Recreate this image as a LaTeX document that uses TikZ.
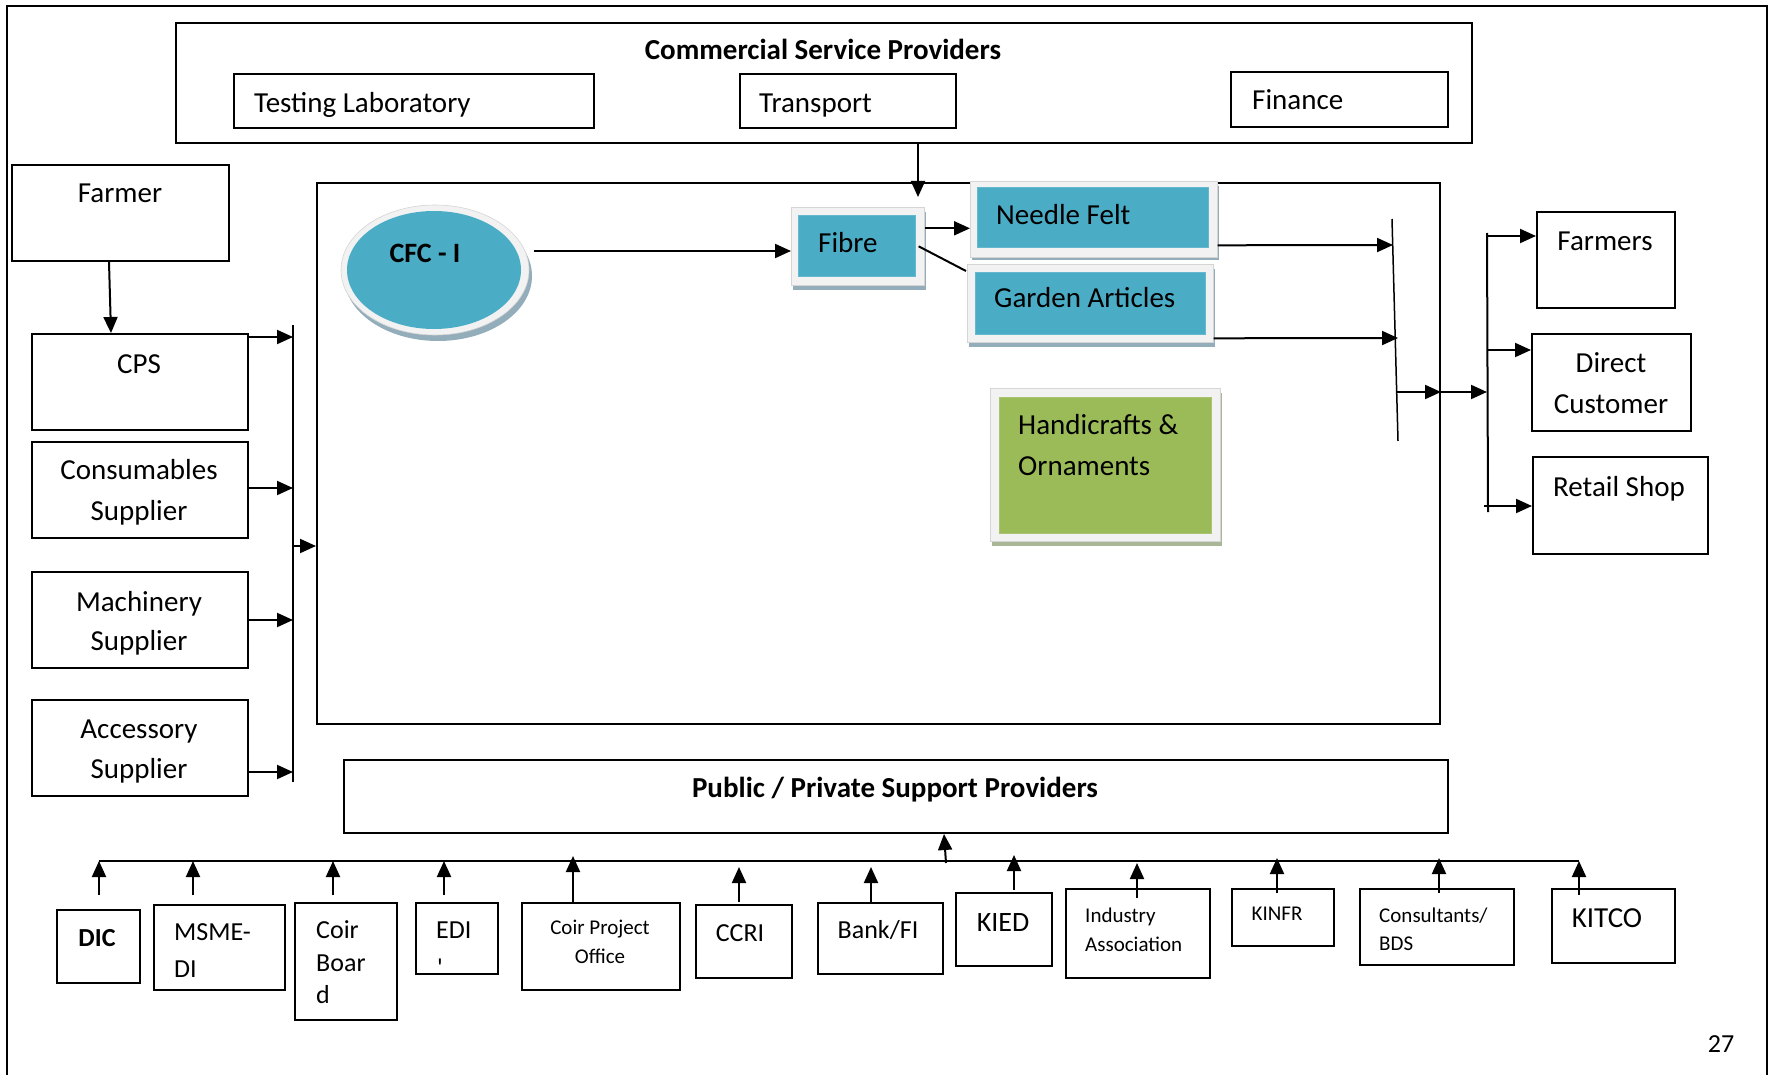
\documentclass[tikz,border=0pt]{standalone}
\usepackage{fontspec}
\setmainfont{Carlito}
\usetikzlibrary{arrows.meta,calc,shapes.geometric}
\definecolor{cblue}{HTML}{4BACC6}
\definecolor{cgreen}{HTML}{9BBB59}
\definecolor{frameg}{HTML}{F2F2F2}
\definecolor{shadb}{HTML}{93ADBA}
\definecolor{shadg}{HTML}{A9B796}
\begin{document}
\begin{tikzpicture}[x=1pt,y=-1pt,
  box/.style={draw, line width=2pt, anchor=north west, inner sep=0pt},
  lbl/.style={inner sep=0pt, anchor=base},
  lbll/.style={inner sep=0pt, anchor=base west},
  fs/.style={font=\fontsize{#1}{#1}\selectfont},
  bfs/.style={font=\fontsize{#1}{#1}\selectfont\bfseries},
  arr/.style={line width=2pt, -{Triangle[length=16pt,width=14pt]}},
  ln/.style={line width=2pt},
  frm/.style={fill=frameg, draw=frameg!88!black, line width=0.6pt, anchor=north west, inner sep=0pt},
  inb/.style={fill=cblue, draw=cblue!85!white, line width=0.5pt, anchor=north west, inner sep=0pt},
  ing/.style={fill=cgreen, draw=cgreen!85!white, line width=0.5pt, anchor=north west, inner sep=0pt}]
\useasboundingbox (0,0) rectangle (1769,1075);
% outer frame
\draw[line width=2pt] (7,1075) -- (7,6) -- (1767,6) -- (1767,1075);

% ---- commercial service providers
\node[box, minimum width=1296pt, minimum height=120pt] (csp) at (175,22) {};
\node[lbl, bfs=29] (csptitle) at (823,60) {Commercial Service Providers};
\node[box, minimum width=360pt, minimum height=54pt] (lab) at (233,73) {};
\node[lbll, fs=29] (labt) at (254,113) {Testing Laboratory};
\node[box, minimum width=216pt, minimum height=54pt] (transport) at (739,73) {};
\node[lbll, fs=29] (transportt) at (759,113) {Transport};
\node[box, minimum width=217pt, minimum height=55pt] (finance) at (1230,71) {};
\node[lbll, fs=29] (financet) at (1252,110) {Finance};

% ---- left column
\node[box, minimum width=217pt, minimum height=96pt] (farmer) at (11,164) {};
\node[lbl, fs=29] (farmert) at (120,203) {Farmer};
\node[box, minimum width=216pt, minimum height=96pt] (cps) at (31,333) {};
\node[lbl, fs=29] (cpst) at (139,373) {CPS};
\node[box, minimum width=216pt, minimum height=96pt] (cons) at (31,441) {};
\node[lbl, fs=29] (cons1) at (139,479) {Consumables};
\node[lbl, fs=29] (cons2) at (139,520) {Supplier};
\node[box, minimum width=216pt, minimum height=96pt] (mach) at (31,571) {};
\node[lbl, fs=29] (mach1) at (139,611) {Machinery};
\node[lbl, fs=29] (mach2) at (139,650) {Supplier};
\node[box, minimum width=216pt, minimum height=96pt] (acc) at (31,699) {};
\node[lbl, fs=29] (acc1) at (139,738) {Accessory};
\node[lbl, fs=29] (acc2) at (139,778) {Supplier};

% ---- main box
\node[box, minimum width=1123pt, minimum height=541pt] (main) at (316,182) {};

% CFC ellipse
\node[ellipse, fill=shadb, inner sep=0pt, minimum width=188pt, minimum height=130pt] (cfcsh) at (438,276) {};
\node[ellipse, fill=frameg, draw=frameg!88!black, line width=0.6pt, inner sep=0pt, minimum width=188pt, minimum height=130pt] (cfcring) at (435,270) {};
\node[ellipse, fill=cblue, inner sep=0pt, minimum width=174pt, minimum height=118pt] (cfc) at (434,270) {};
\node[lbl, bfs=28] (cfct) at (425,263) {CFC - I};

% Fibre
\fill[shadb] (793,212) rectangle (926,290);
\node[frm, minimum width=133pt, minimum height=78pt] (fibreF) at (791,207) {};
\node[inb, minimum width=117pt, minimum height=61pt] (fibreB) at (798,215) {};
\node[lbll, fs=29] (fibret) at (818,253) {Fibre};
% Needle Felt
\fill[shadb] (972,186) rectangle (1219,260);
\node[frm, minimum width=247pt, minimum height=76pt] (needleF) at (970,181) {};
\node[inb, minimum width=231pt, minimum height=60pt] (needleB) at (977,187) {};
\node[lbll, fs=29] (needlet) at (996,225) {Needle Felt};
% Garden Articles
\fill[shadb] (969,269) rectangle (1215,347);
\node[frm, minimum width=246pt, minimum height=78pt] (gardenF) at (967,264) {};
\node[inb, minimum width=230pt, minimum height=62pt] (gardenB) at (975,272) {};
\node[lbll, fs=29] (gardent) at (994,308) {Garden Articles};
% Handicrafts
\fill[shadg] (992,393) rectangle (1222,546);
\node[frm, minimum width=230pt, minimum height=153pt] (handiF) at (990,388) {};
\node[ing, minimum width=212pt, minimum height=136pt] (handiB) at (999,397) {};
\node[lbll, fs=29] (handi1) at (1018,434) {Handicrafts \&};
\node[lbll, fs=29] (handi2) at (1018,475) {Ornaments};

% ---- right column
\node[box, minimum width=138pt, minimum height=96pt] (farmers) at (1536,211) {};
\node[lbl, fs=29] (farmerst) at (1605,251) {Farmers};
\node[box, minimum width=159pt, minimum height=97pt] (direct) at (1531,333) {};
\node[lbl, fs=29] (direct1) at (1611,372) {Direct};
\node[lbl, fs=29] (direct2) at (1611,413) {Customer};
\node[box, minimum width=175pt, minimum height=97pt] (retail) at (1532,456) {};
\node[lbl, fs=29] (retailt) at (1619,496) {Retail Shop};

% ---- public / private
\node[box, minimum width=1104pt, minimum height=73pt] (psp) at (343,759) {};
\node[lbl, bfs=29] (psptitle) at (895,797) {Public / Private Support Providers};

% ---- bottom boxes
\node[box, minimum width=83pt, minimum height=73pt] (dic) at (56,909) {};
\node[lbl, bfs=26] (dict) at (97,946) {DIC};
\node[box, minimum width=131pt, minimum height=85pt] (msme) at (153,904) {};
\node[lbll, fs=26] (msme1) at (174,940) {MSME-};
\node[lbll, fs=26] (msme2) at (174,977) {DI};
\node[box, minimum width=102pt, minimum height=117pt] (coir) at (294,902) {};
\node[lbll, fs=26] (coir1) at (316,938) {Coir};
\node[lbll, fs=26] (coir2) at (316,971) {Boar};
\node[lbll, fs=26] (coir3) at (316,1003) {d};
\node[box, minimum width=82pt, minimum height=71pt] (edi) at (415,902) {};
\node[lbll, fs=26] (edi1) at (436,938) {EDI};
\node[lbll, fs=26] (edi2) at (437,976) {\textquotesingle};
\node[box, minimum width=158pt, minimum height=87pt] (cpo) at (521,902) {};
\node[lbl, fs=21] (cpo1) at (600,934) {Coir Project};
\node[lbl, fs=21] (cpo2) at (600,963) {Office};
\node[box, minimum width=96pt, minimum height=73pt] (ccri) at (695,904) {};
\node[lbl, fs=26] (ccrit) at (740,941) {CCRI};
\node[box, minimum width=125pt, minimum height=71pt] (bank) at (817,902) {};
\node[lbl, fs=26] (bankt) at (878,938) {Bank/FI};
\node[box, minimum width=96pt, minimum height=73pt] (kied) at (955,892) {};
\node[lbl, fs=28] (kiedt) at (1003,931) {KIED};
\node[box, minimum width=144pt, minimum height=89pt] (ind) at (1065,888) {};
\node[lbll, fs=21] (ind1) at (1085,922) {Industry};
\node[lbll, fs=21] (ind2) at (1085,951) {Association};
\node[box, minimum width=102pt, minimum height=57pt] (kinfr) at (1231,888) {};
\node[lbl, fs=21] (kinfrt) at (1277,920) {KINFR};
\node[box, minimum width=154pt, minimum height=76pt] (cons3) at (1359,888) {};
\node[lbll, fs=21] (cons31) at (1379,922) {Consultants/};
\node[lbll, fs=21] (cons32) at (1379,950) {BDS};
\node[box, minimum width=123pt, minimum height=74pt] (kitco) at (1551,888) {};
\node[lbl, fs=29] (kitcot) at (1607,927) {KITCO};

\node[lbl, fs=26] (pagenum) at (1721,1052) {27};

% ---- connectors: left
\draw[arr] ($(farmer.south west)+(98,0)$) -- ($(cps.north west)+(80,0)$);
\coordinate (lbt) at (293,325);
\coordinate (lbb) at (293,782);
\draw[ln] (lbt) -- (lbb);
\draw[arr] ($(cps.north east)+(0,4)$) coordinate (a1) -- (a1 -| lbt);
\draw[arr] ($(cons.east)+(0,-2)$) coordinate (a2) -- (a2 -| lbt);
\draw[arr] (mach.east) -- (mach.east -| lbt);
\draw[arr] ($(acc.east)+(0,24)$) coordinate (a4) -- (a4 -| lbt);
\coordinate (lbm) at (293,546);
\draw[arr] (lbm) -- (lbm -| main.west);

% ---- connectors: top / inside
\coordinate (ft) at (918,197);
\draw[arr] (ft |- csp.south) -- (ft);
\draw[arr] ($(cfcring.east)+(5,-19)$) coordinate (c1) -- (c1 -| fibreF.west);
\draw[arr] ($(fibreF.east)+(0,-18)$) coordinate (c2) -- (c2 -| needleF.west);
\draw[ln] ($(fibreF.east)+(-6,0)$) -- ($(gardenF.north west)+(-1,7)$);
\coordinate (bt) at (1392,219);
\coordinate (bb) at (1398,441);
\draw[line width=1.5pt] (bt) -- (bb);
\coordinate (bar1) at (1393,245);
\coordinate (bar2) at (1398,338);
\draw[arr] ($(needleF.east)+(0,26)$) -- (bar1);
\draw[arr] ($(gardenF.east)+(0,35)$) -- (bar2);
\coordinate (bar3) at (1396,392);
\draw[arr] (bar3) -- (bar3 -| main.east);
\coordinate (rbm) at (1487,392);
\draw[arr] (bar3 -| main.east) -- (rbm);

% ---- right bus
\coordinate (rbt) at (1487,233);
\coordinate (rbb) at (1488,512);
\draw[ln] (rbt) -- (rbb);
\coordinate (r1) at (1487,236);
\coordinate (r2) at (1487,350);
\coordinate (r3) at (1484,506);
\draw[arr] (r1) -- (r1 -| farmers.west);
\draw[arr] (r2) -- (r2 -| direct.west);
\draw[arr] (r3) -- (r3 -| retail.west);

% ---- bottom bus
\coordinate (bbl) at (99,861);
\coordinate (bbr) at (1579,861);
\draw[line width=2.5pt] (bbl) -- (bbr);
\coordinate (pb) at (946,863);
\draw[arr] (pb) -- ([xshift=-2pt]pb |- psp.south);
\draw[arr] ($(dic.north west)+(43,-14)$) -- ++(0,-34);
\draw[arr] ($(msme.north west)+(40,-9)$) -- ++(0,-34);
\draw[arr] ($(coir.north west)+(39,-7)$) -- ++(0,-34);
\draw[arr] ($(edi.north west)+(29,-7)$) -- ++(0,-34);
\draw[arr] ($(cpo.north west)+(52,0)$) -- ++(0,-46);
\draw[arr] ($(ccri.north west)+(44,-2)$) -- ++(0,-35);
\draw[arr] ($(bank.north west)+(54,1)$) -- ++(0,-36);
\draw[arr] ($(kied.north west)+(59,-2)$) -- ++(0,-35);
\draw[arr] ($(ind.north west)+(72,10)$) -- ++(0,-35);
\draw[arr] ($(kinfr.north west)+(46,5)$) -- ++(0,-35);
\draw[arr] ($(cons3.north west)+(80,5)$) -- ++(0,-35);
\draw[arr] ($(kitco.north west)+(28,7)$) -- ++(0,-34);
\end{tikzpicture}
\end{document}
